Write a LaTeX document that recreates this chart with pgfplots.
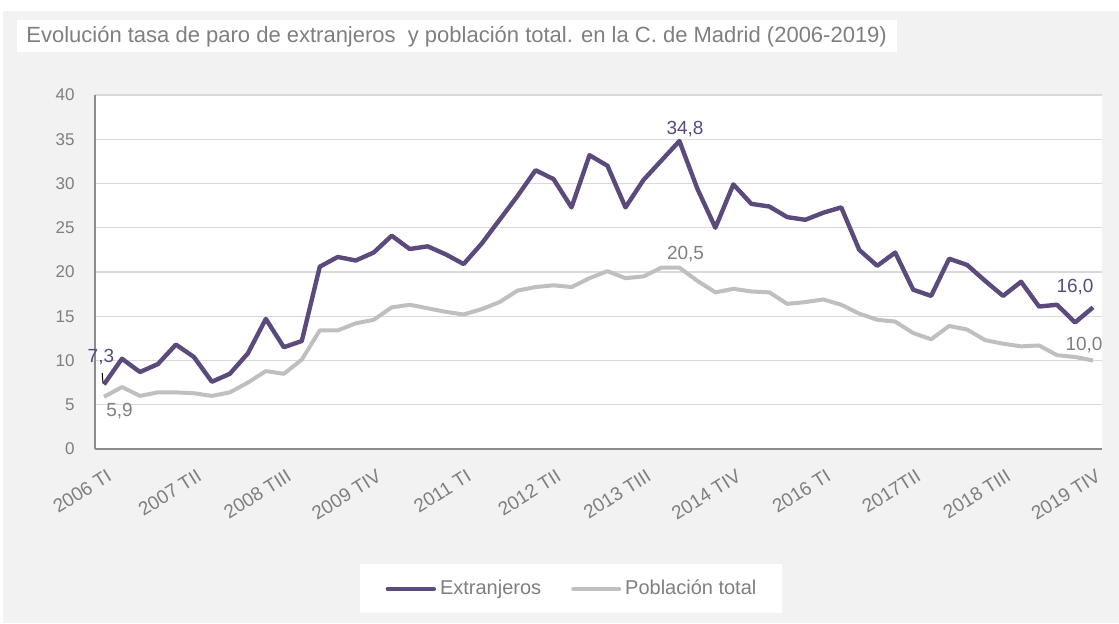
\documentclass[border=0pt]{standalone}
\usepackage{fontspec}
\setmainfont{Liberation Sans}
\usepackage{pgfplots}
\pgfplotsset{compat=1.18}
\usepackage{pgfplotstable}

\definecolor{morado}{HTML}{5C4A7D}
\definecolor{grislinea}{HTML}{BFBFBF}
\definecolor{gristexto}{HTML}{7F7F7F}
\definecolor{fondo}{HTML}{F2F2F2}
\definecolor{rejilla}{HTML}{D9D9D9}
\definecolor{eje}{HTML}{8C8C8C}

% trimestres 2006 TI (0) ... 2019 TIV (55)
\pgfplotstableread{
q ext tot
0 7.3 5.9
1 10.2 7.0
2 8.7 6.0
3 9.6 6.4
4 11.8 6.4
5 10.4 6.3
6 7.6 6.0
7 8.5 6.4
8 10.8 7.5
9 14.7 8.8
10 11.5 8.5
11 12.2 10.1
12 20.6 13.4
13 21.7 13.4
14 21.3 14.2
15 22.2 14.6
16 24.1 16.0
17 22.6 16.3
18 22.9 15.9
19 22.0 15.5
20 20.9 15.2
21 23.2 15.8
22 25.9 16.6
23 28.6 17.9
24 31.5 18.3
25 30.5 18.5
26 27.3 18.3
27 33.2 19.3
28 32.0 20.1
29 27.3 19.3
30 30.4 19.5
31 32.6 20.5
32 34.8 20.5
33 29.4 19.0
34 25.0 17.7
35 29.9 18.1
36 27.7 17.8
37 27.4 17.7
38 26.2 16.4
39 25.9 16.6
40 26.7 16.9
41 27.3 16.3
42 22.5 15.3
43 20.7 14.6
44 22.2 14.4
45 18.0 13.1
46 17.3 12.4
47 21.5 13.9
48 20.8 13.5
49 19.0 12.3
50 17.3 11.9
51 18.9 11.6
52 16.1 11.7
53 16.3 10.6
54 14.3 10.4
55 16.0 10.0
}\datos

\begin{document}
\begin{tikzpicture}
% fondo y cajas
\fill[white] (0,0) rectangle (559.5pt,311.5pt);
\fill[fondo] (1.5pt,0) rectangle (559.5pt,306pt);
\fill[white] (8.5pt,285.5pt) rectangle (448.5pt,301.5pt);
\node[anchor=west, inner sep=0pt, text=gristexto, font=\fontsize{11}{13}\selectfont]
  at (13pt,293pt) {Evolución tasa de paro de extranjeros\ \ y población total. en la C. de Madrid (2006-2019)};
\fill[white] (180pt,5pt) rectangle (391pt,29.5pt);

\begin{axis}[
  at={(47.5pt,87pt)}, anchor=south west,
  scale only axis, width=503.5pt, height=177pt,
  xmin=-0.5, xmax=55.5, ymin=0, ymax=40,
  axis x line*=bottom, axis y line*=left,
  axis line style={draw=eje, line width=0.6pt},
  axis background/.style={fill=white},
  ymajorgrids, grid style={rejilla, line width=0.7pt},
  major tick length=0pt, tick style={draw=none},
  ytick={0,5,...,40},
  xtick={0,5,...,55},
  xticklabels={2006 TI, 2007 TII, 2008 TIII, 2009 TIV, 2011 TI, 2012 TII, 2013 TIII, 2014 TIV, 2016 TI, 2017TII, 2018 TIII, 2019 TIV},
  /pgf/number format/assume math mode=true,
  tick label style={font=\fontsize{8.5}{10}\selectfont, text=gristexto},
  xticklabel style={font=\fontsize{9.5}{11}\selectfont, xshift=1pt, yshift=-9.5pt, rotate=32, anchor=north east, inner sep=0pt},
  yticklabel style={anchor=east, inner sep=0pt, xshift=-10pt},
  clip=false,
  legend columns=2,
  legend style={at={(0.4747,-0.3955)}, anchor=center, draw=none, fill=none,
    font=\fontsize{10}{12}\selectfont, text=gristexto,
    /tikz/every even column/.append style={column sep=13pt}},
  legend image code/.code={\draw[#1, line cap=round] (0pt,0pt) -- (23pt,0pt);},
]
\addplot[morado, line width=2.2pt, line join=round] table[x=q, y=ext]{\datos};
\addlegendentry{Extranjeros}
\addplot[grislinea, line width=2pt, line join=round] table[x=q, y=tot]{\datos};
\addlegendentry{Población total}

\draw[black, line width=0.5pt] (axis cs:-0.1,8.6) -- (axis cs:-0.06,7.5);
\node[text=morado, font=\fontsize{9.5}{11}\selectfont] at (axis cs:-0.17,10.4) {7,3};
\node[text=gristexto, font=\fontsize{9.5}{11}\selectfont] at (axis cs:0.86,4.24) {5,9};
\node[text=morado, font=\fontsize{9.5}{11}\selectfont] at (axis cs:32.31,36.2) {34,8};
\node[text=gristexto, font=\fontsize{9.5}{11}\selectfont] at (axis cs:32.34,21.98) {20,5};
\node[text=morado, font=\fontsize{9.5}{11}\selectfont] at (axis cs:54.0,18.25) {16,0};
\node[text=gristexto, font=\fontsize{9.5}{11}\selectfont] at (axis cs:54.5,11.69) {10,0};
\end{axis}
\pgfresetboundingbox
\path[use as bounding box] (0,0) rectangle (559.5pt,311.5pt);
\end{tikzpicture}
\end{document}
